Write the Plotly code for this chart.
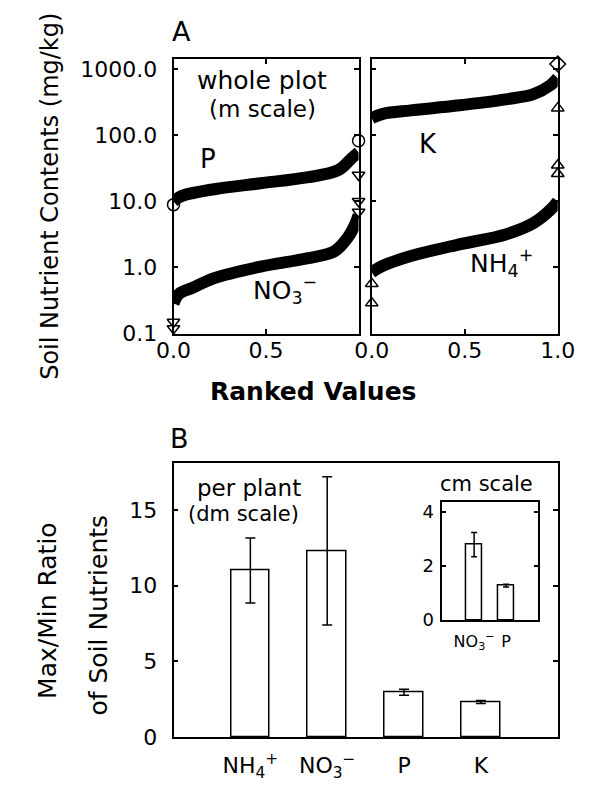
import plotly.graph_objects as go

W, H = 595, 787
FONT = "DejaVu Sans"

# ---------------- Panel A data (ranked values, mg/kg) ----------------
p_rank = [0, 0.03, 0.066, 0.22, 0.47, 0.72, 0.89, 0.96, 1.0]
p_vals = [10, 11.5, 12.6, 15.2, 18.7, 22.9, 29.5, 44, 55]
no3_rank = [0, 0.03, 0.1, 0.22, 0.47, 0.72, 0.87, 0.94, 0.98, 1.0]
no3_vals = [0.286, 0.40, 0.49, 0.69, 1.03, 1.37, 1.76, 2.8, 4.4, 6.2]
k_rank = [0, 0.06, 0.21, 0.46, 0.72, 0.87, 0.96, 1.0]
k_vals = [181, 209, 236, 279, 346, 415, 565, 727]
nh4_rank = [0, 0.06, 0.21, 0.46, 0.72, 0.87, 0.96, 1.0]
nh4_vals = [0.85, 1.06, 1.49, 2.2, 3.16, 4.7, 7.4, 10]

# open-symbol extremes
p_ext_rank = [0, 1]
p_ext_vals = [8.9, 82]
no3_ext_rank = [0, 0, 1, 1, 1]
no3_ext_vals = [0.15, 0.12, 25, 10, 6.9]
k_ext_rank = [1]
k_ext_vals = [1185]
nh4_ext_rank = [0, 0, 1, 1, 1]
nh4_ext_vals = [0.57, 0.29, 255, 35, 26]

log_ticks = [0.1, 1, 10, 100, 1000]
log_ticktext = ["0.1", "1.0", "10.0", "100.0", "1000.0"]

# ---------------- Panel B data ----------------
nutrients = ["NH<sub>4</sub><sup>+</sup>", "NO<sub>3</sub><sup>−</sup>", "P", "K"]
ratio = [11.0, 12.3, 2.95, 2.3]
ratio_err = [2.15, 4.9, 0.2, 0.1]

inset_nutrients = ["NO<sub>3</sub><sup>−</sup>", "P"]
inset_ratio = [2.8, 1.28]
inset_err = [0.45, 0.05]


def px_x(px):
    return px / W


def px_y(py):
    return 1 - py / H


fig = go.Figure()

curve = dict(mode="lines", line=dict(color="black", width=12, shape="spline"),
             showlegend=False, hoverinfo="skip", cliponaxis=False)

def openmk(sym, size=12):
    return dict(mode="markers", showlegend=False, cliponaxis=False, hoverinfo="skip",
                marker=dict(symbol=sym, size=size, color="black",
                            line=dict(color="black", width=1.5)))

# left panel
fig.add_trace(go.Scatter(x=p_rank, y=p_vals, xaxis="x", yaxis="y", **curve))
fig.add_trace(go.Scatter(x=no3_rank, y=no3_vals, xaxis="x", yaxis="y", **curve))
fig.add_trace(go.Scatter(x=p_ext_rank, y=p_ext_vals, xaxis="x", yaxis="y", **openmk("circle-open", 12)))
fig.add_trace(go.Scatter(x=no3_ext_rank, y=no3_ext_vals, xaxis="x", yaxis="y", **openmk("triangle-down-open", 11)))
# right panel
fig.add_trace(go.Scatter(x=k_rank, y=k_vals, xaxis="x2", yaxis="y2", **curve))
fig.add_trace(go.Scatter(x=nh4_rank, y=nh4_vals, xaxis="x2", yaxis="y2", **curve))
fig.add_trace(go.Scatter(x=k_ext_rank, y=k_ext_vals, xaxis="x2", yaxis="y2", **openmk("diamond-open", 12)))
fig.add_trace(go.Scatter(x=nh4_ext_rank, y=nh4_ext_vals, xaxis="x2", yaxis="y2", **openmk("triangle-up-open", 11)))

# panel B
fig.add_trace(go.Bar(x=nutrients, y=ratio, xaxis="x3", yaxis="y3", width=0.5,
                     marker=dict(color="white", line=dict(color="black", width=1.5)),
                     error_y=dict(type="data", array=ratio_err, color="black", thickness=1.5, width=5),
                     showlegend=False))
# inset
fig.add_trace(go.Bar(x=inset_nutrients, y=inset_ratio, xaxis="x4", yaxis="y4", width=0.5,
                     marker=dict(color="white", line=dict(color="black", width=1.5)),
                     error_y=dict(type="data", array=inset_err, color="black", thickness=1.5, width=3),
                     showlegend=False))

axis_common = dict(showline=True, linecolor="black", linewidth=1.5, mirror="ticks",
                   ticks="inside", ticklen=5, tickwidth=1.5, tickcolor="black",
                   showgrid=False, zeroline=False,
                   tickfont=dict(family=FONT, size=22, color="black"))

ytop = [px_y(330), px_y(50)]
yrange_log = [-1, 3.148]

fig.update_layout(
    width=W, height=H, margin=dict(l=0, r=0, t=0, b=0),
    paper_bgcolor="white", plot_bgcolor="rgba(0,0,0,0)",
    font=dict(family=FONT, color="black"),
    bargap=0,
    xaxis=dict(axis_common, domain=[px_x(157), px_x(354)], range=[0, 1], anchor="y",
               tickvals=[0, 0.5, 1], ticktext=["0.0", "0.5", ""], ticklabelstandoff=-4),
    yaxis=dict(axis_common, domain=ytop, type="log", range=yrange_log, anchor="x",
               tickvals=log_ticks, ticktext=log_ticktext, ticklabelstandoff=10),
    xaxis2=dict(axis_common, domain=[px_x(368), px_x(566)], range=[0, 1], anchor="y2",
                tickvals=[0, 0.5, 1], ticktext=["0.0", "0.5", "1.0"], ticklabelstandoff=-4),
    yaxis2=dict(axis_common, domain=ytop, type="log", range=yrange_log, anchor="x2",
                tickvals=log_ticks, showticklabels=False),
    xaxis3=dict(axis_common, domain=[px_x(157), px_x(566)], range=[-1, 4], anchor="y3",
                ticks="", type="category", ticklabelstandoff=8, tickangle=0,
                tickfont=dict(family=FONT, size=22, color="black")),
    yaxis3=dict(axis_common, domain=[px_y(741), px_y(462)], range=[0, 18.1], anchor="x3",
                tickvals=[0, 5, 10, 15], ticklabelstandoff=10),
    xaxis4=dict(axis_common, domain=[px_x(443), px_x(545)], range=[-1, 2], anchor="y4",
                ticks="", type="category", ticklabelstandoff=6, tickangle=0,
                tickfont=dict(family=FONT, size=16, color="black")),
    yaxis4=dict(axis_common, domain=[px_y(622), px_y(502)], range=[0, 4.36], anchor="x4",
                tickvals=[0, 2, 4], ticklen=4, ticklabelstandoff=3,
                tickfont=dict(family=FONT, size=18, color="black")),
)

def ann(text, x, y, size, **kw):
    d = dict(text=text, x=px_x(x), y=px_y(y), xref="paper", yref="paper",
             showarrow=False, xanchor="center", yanchor="middle",
             font=dict(family=FONT, size=size, color="black"))
    d.update(kw)
    fig.add_annotation(**d)

ann("A", 165, 22, 27)
ann("B", 163, 437, 27)
ann("whole plot", 251, 72, 25)
ann("(m scale)", 252, 101, 23)
ann("P", 194, 152, 26)
ann("K", 428, 137, 26)
ann("NO<sub>3</sub><sup>−</sup>", 276, 285, 25)
ann("NH<sub>4</sub><sup>+</sup>", 506, 258, 25)
ann("<b>Ranked Values</b>", 306, 389, 25)
ann("Soil Nutrient Contents (mg/kg)", 26, 190, 24, textangle=-90)
ann("per plant", 237, 487, 23)
ann("(dm scale)", 232, 514, 21)
ann("cm scale", 490, 483, 21)
ann("Max/Min Ratio", 23, 612, 25, textangle=-90)
ann("of Soil Nutrients", 77, 617, 25, textangle=-90)

fig.write_html("out.html")
